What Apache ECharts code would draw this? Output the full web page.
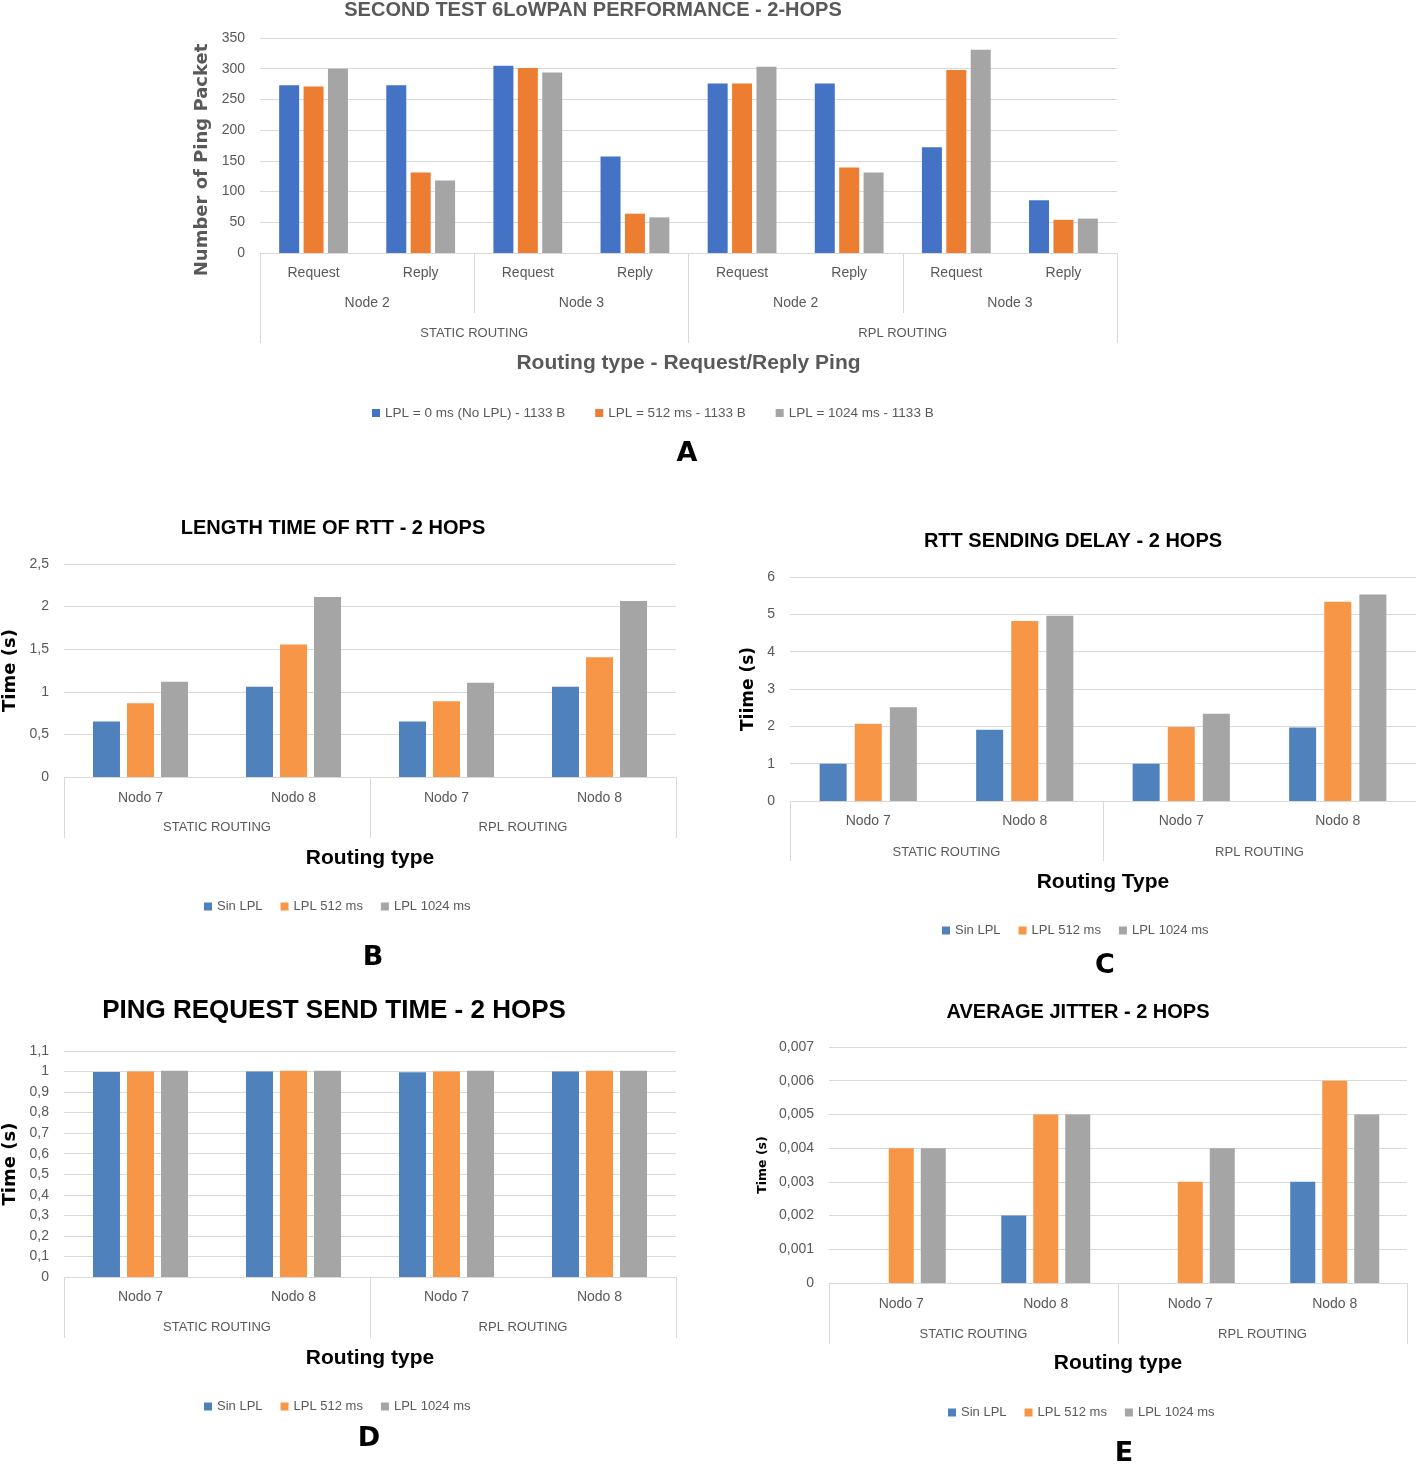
<!DOCTYPE html>
<html>
<head>
<meta charset="utf-8">
<script src="https://cdn.jsdelivr.net/npm/echarts@6/dist/echarts.min.js"></script>
<style>html,body{margin:0;padding:0;background:#fff;}#c{width:1416px;height:1464px;}</style>
</head>
<body>
<div id="c"></div>
<script>
// ---------- DATA ----------
const aSub = ['Request','Reply','Request','Reply','Request','Reply','Request','Reply'];
const aNode = ['Node 2','Node 3','Node 2','Node 3'];
const routing = ['STATIC ROUTING','RPL ROUTING'];
const aNames = ['LPL = 0 ms (No LPL) - 1133 B','LPL = 512 ms - 1133 B','LPL = 1024 ms - 1133 B'];
const aNoLPL = [273, 273, 305, 157, 276, 276, 172, 86];
const a512   = [271, 131, 301, 64, 276, 139, 298, 54];
const a1024  = [300, 118, 294, 58, 303, 131, 331, 56];

const nodos = ['Nodo 7','Nodo 8','Nodo 7','Nodo 8'];
const lplNames = ['Sin LPL','LPL 512 ms','LPL 1024 ms'];
const bSin  = [0.652, 1.059, 0.652, 1.059];
const b512  = [0.867, 1.555, 0.89, 1.406];
const b1024 = [1.117, 2.113, 1.105, 2.066];
const cSin  = [1.0, 1.91, 1.0, 1.97];
const c512  = [2.07, 4.82, 1.98, 5.34];
const c1024 = [2.51, 4.96, 2.34, 5.53];
const dSin  = [0.998, 1.0, 0.996, 1.0];
const d512  = [1.0, 1.004, 1.0, 1.004];
const d1024 = [1.004, 1.004, 1.004, 1.004];
const eSin  = [0, 0.002, 0, 0.003];
const e512  = [0.004, 0.005, 0.003, 0.006];
const e1024 = [0.004, 0.005, 0.004, 0.005];

// ---------- STYLE ----------
const LS = '"Liberation Sans", Arial, sans-serif';
const DV = '"DejaVu Sans", Verdana, sans-serif';
const GRAY = '#595959';
const LINE = '#D9D9D9';
const colA = ['#4472C4', '#ED7D31', '#A5A5A5'];
const colB = ['#4F81BD', '#F79646', '#A5A5A5'];

const comma = (dec) => (v) => (v === 0 ? '0' : (+v.toFixed(dec)).toString().replace('.', ','));

const grids = [];
const xAxes = [];
const yAxes = [];
const series = [];
const legends = [];
const graphics = [];

function labelAxis(gi, data, margin, fontSize, tickLen, name, nameGap, nameColor) {
  const ax = {
    type: 'category', gridIndex: gi, position: 'bottom', data: data,
    axisLine: { show: tickLen === 0, lineStyle: { color: LINE, width: 1 } },
    axisTick: { show: tickLen > 0, length: tickLen, interval: 0, lineStyle: { color: LINE, width: 1 } },
    axisLabel: { interval: 0, margin: margin, color: GRAY, fontSize: fontSize, fontFamily: LS },
    splitLine: { show: false }
  };
  if (name) {
    ax.name = name; ax.nameLocation = 'middle'; ax.nameGap = nameGap;
    ax.nameTextStyle = { color: nameColor, fontSize: 21, fontWeight: 'bold', fontFamily: LS };
  }
  xAxes.push(ax);
  return xAxes.length - 1;
}

function valueAxis(gi, max, interval, dec, name, nameGap, nameSize) {
  const ax = {
    type: 'value', gridIndex: gi, min: 0, max: max, interval: interval,
    axisLine: { show: false }, axisTick: { show: false },
    splitLine: { lineStyle: { color: LINE, width: 1 } },
    axisLabel: { margin: 15, color: GRAY, fontSize: 14, fontFamily: LS, formatter: comma(dec) }
  };
  if (name) {
    ax.name = name; ax.nameLocation = 'middle'; ax.nameRotate = 90; ax.nameGap = nameGap;
    ax.nameTextStyle = { color: '#000', fontSize: nameSize, fontWeight: 'bold', fontFamily: DV };
  }
  yAxes.push(ax);
  return yAxes.length - 1;
}

function title(text, x, y, size, color) {
  graphics.push({ type: 'text', x: x, y: y, silent: true,
    style: { text: text, fill: color, font: 'bold ' + size + 'px ' + LS, textAlign: 'center', textVerticalAlign: 'middle' } });
}
function letter(text, x, y) {
  graphics.push({ type: 'text', x: x, y: y, silent: true,
    style: { text: text, fill: '#000', font: 'bold 27px ' + DV, textAlign: 'center', textVerticalAlign: 'middle' } });
}

// ---------- CHART A ----------
grids.push({ left: 260, top: 38, width: 857, height: 215 });
const aX0 = labelAxis(0, aSub, 13, 14, 0);
labelAxis(0, aNode, 43, 14, 60);
labelAxis(0, routing, 73.5, 13, 90, 'Routing type - Request/Reply Ping', 99.5, GRAY);
const aY = valueAxis(0, 350, 50, 0);
[aNoLPL, a512, a1024].forEach((d, i) => {
  series.push({ type: 'bar', name: aNames[i], xAxisIndex: aX0, yAxisIndex: aY, data: d,
    barWidth: 20, barGap: '22%', itemStyle: { color: colA[i] } });
});
legends.push({ data: aNames, left: 372, top: 406, padding: 0, itemGap: 30, itemWidth: 8, itemHeight: 8,
  icon: 'rect', textStyle: { color: GRAY, fontSize: 13.5, fontFamily: LS } });
title('SECOND TEST 6LoWPAN PERFORMANCE - 2-HOPS', 593, 10, 20, GRAY);
graphics.push({ type: 'text', x: 202, y: 160, rotation: Math.PI / 2, silent: true,
  style: { text: 'Number of Ping Packet', fill: GRAY, font: 'bold 18px ' + DV, textAlign: 'center', textVerticalAlign: 'middle' } });
letter('A', 687, 454);

// ---------- CHARTS B-E ----------
function smallChart(cfg) {
  const gi = grids.length;
  grids.push(cfg.grid);
  const x0 = labelAxis(gi, nodos, cfg.m1, 14, 0);
  labelAxis(gi, routing, cfg.m2, 13, cfg.tick, cfg.xName, cfg.xGap, '#000');
  const y = valueAxis(gi, cfg.max, cfg.interval, cfg.dec, cfg.yName, cfg.yGap, cfg.ySize);
  cfg.data.forEach((d, i) => {
    series.push({ type: 'bar', name: lplNames[i], xAxisIndex: x0, yAxisIndex: y, data: d,
      barWidth: cfg.bw, barGap: cfg.gap, itemStyle: { color: colB[i] } });
  });
  legends.push({ data: lplNames, left: cfg.legX, top: cfg.legY, padding: 0, itemGap: 18, itemWidth: 8, itemHeight: 8,
    icon: 'rect', textStyle: { color: GRAY, fontSize: 13, fontFamily: LS } });
  title(cfg.title, cfg.tx, cfg.ty, cfg.tsize, '#000');
  letter(cfg.letter, cfg.lx, cfg.ly);
}

smallChart({ grid: { left: 64, top: 564, width: 612, height: 213 }, m1: 14, m2: 43.5, tick: 61,
  xName: 'Routing type', xGap: 70.5, max: 2.5, interval: 0.5, dec: 1, yName: 'Time (s)', yGap: 45, ySize: 18,
  data: [bSin, b512, b1024], bw: 27, gap: '26%', legX: 204, legY: 900,
  title: 'LENGTH TIME OF RTT - 2 HOPS', tx: 333, ty: 528, tsize: 20, letter: 'B', lx: 373, ly: 958 });

smallChart({ grid: { left: 790, top: 577, width: 626, height: 224 }, m1: 13, m2: 44.5, tick: 60,
  xName: 'Routing Type', xGap: 70.5, max: 6, interval: 1, dec: 0, yName: 'Tiime (s)', yGap: 33, ySize: 17,
  data: [cSin, c512, c1024], bw: 27, gap: '30%', legX: 942, legY: 924,
  title: 'RTT SENDING DELAY - 2 HOPS', tx: 1073, ty: 541, tsize: 20, letter: 'C', lx: 1105, ly: 966 });

smallChart({ grid: { left: 64, top: 1051, width: 612, height: 226 }, m1: 13, m2: 43.5, tick: 61,
  xName: 'Routing type', xGap: 70.5, max: 1.1, interval: 0.1, dec: 1, yName: 'Time (s)', yGap: 45, ySize: 18,
  data: [dSin, d512, d1024], bw: 27, gap: '26%', legX: 204, legY: 1400,
  title: 'PING REQUEST SEND TIME - 2 HOPS', tx: 334, ty: 1011, tsize: 26, letter: 'D', lx: 369, ly: 1439 });

smallChart({ grid: { left: 829, top: 1047, width: 578, height: 236 }, m1: 14, m2: 44.5, tick: 61,
  xName: 'Routing type', xGap: 69.5, max: 0.007, interval: 0.001, dec: 3, yName: 'Time (s)', yGap: 60, ySize: 12.5,
  data: [eSin, e512, e1024], bw: 25, gap: '28%', legX: 948, legY: 1406,
  title: 'AVERAGE JITTER - 2 HOPS', tx: 1078, ty: 1012, tsize: 20, letter: 'E', lx: 1124, ly: 1454 });

const chart = echarts.init(document.getElementById('c'), null, { renderer: 'canvas' });
chart.setOption({
  animation: false,
  backgroundColor: '#fff',
  grid: grids,
  xAxis: xAxes,
  yAxis: yAxes,
  legend: legends,
  series: series,
  graphic: graphics
});
</script>
</body>
</html>
